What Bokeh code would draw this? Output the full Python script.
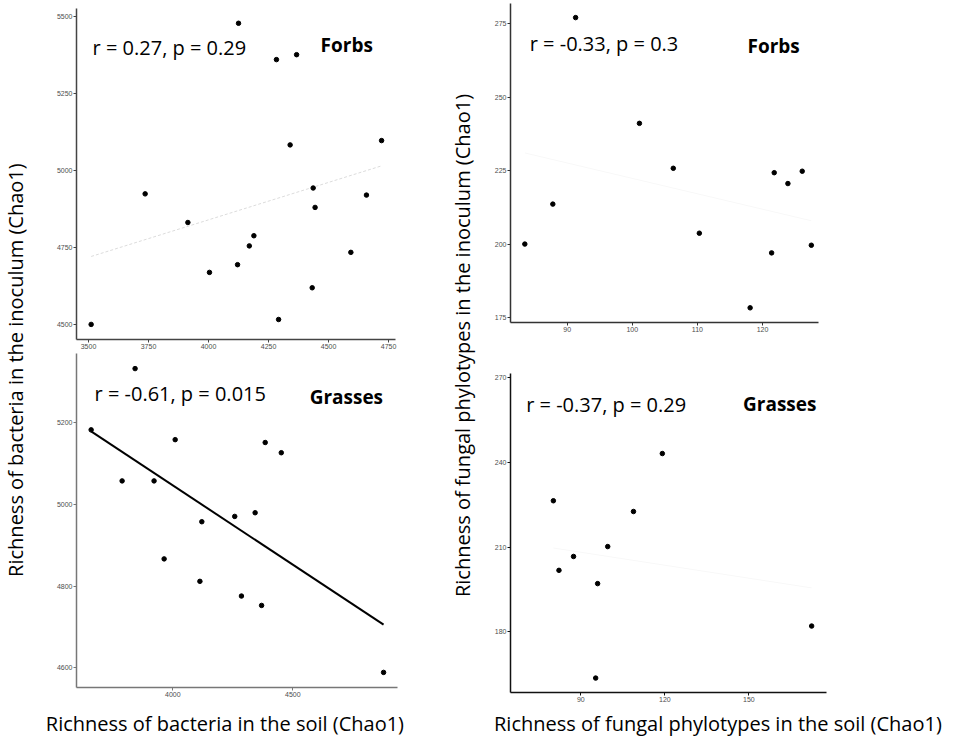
import numpy as np
from bokeh.plotting import figure
from bokeh.layouts import row, column
from bokeh.models import Range1d, FixedTicker
from bokeh.core.properties import value
from bokeh.embed import file_html
from bokeh.resources import INLINE

# ---------------- data ----------------
# Bacteria, forbs
bac_forbs_soil = [4125, 4283, 4367, 4340, 4721, 3736, 3914, 4436, 4444, 4658,
                  4189, 4170, 4004, 4121, 4593, 4432, 4292, 3511]
bac_forbs_inoc = [5478, 5360, 5376, 5083, 5097, 4924, 4831, 4943, 4880, 4920,
                  4788, 4755, 4669, 4694, 4734, 4619, 4516, 4500]
# Bacteria, grasses
bac_grass_soil = [3843, 3660, 4010, 4385, 4452, 3789, 3922, 4343, 4258, 4121,
                  3964, 4113, 4286, 4370, 4878]
bac_grass_inoc = [5333, 5183, 5159, 5152, 5127, 5058, 5058, 4980, 4971, 4958,
                  4867, 4812, 4776, 4753, 4589]
# Fungi, forbs
fung_forbs_soil = [91.3, 101.1, 106.3, 87.8, 83.5, 110.3, 121.8, 123.9, 126.1,
                   121.4, 127.5, 118.1]
fung_forbs_inoc = [277.1, 241.1, 225.8, 213.6, 200.0, 203.7, 224.3, 220.6, 224.8,
                   197.0, 199.6, 178.3]
# Fungi, grasses
fung_grass_soil = [119.1, 80.2, 108.8, 99.6, 87.4, 82.2, 96.0, 172.4, 95.3]
fung_grass_inoc = [243.1, 226.4, 222.6, 210.2, 206.7, 201.8, 197.1, 182.1, 163.7]

stats_text = ["r = 0.27, p = 0.29", "r = -0.61, p = 0.015",
              "r = -0.33, p = 0.3", "r = -0.37, p = 0.29"]
group_text = ["Forbs", "Grasses", "Forbs", "Grasses"]

ticks_bf_x = [3500, 3750, 4000, 4250, 4500, 4750]
ticks_bf_y = [4500, 4750, 5000, 5250, 5500]
ticks_bg_x = [4000, 4500]
ticks_bg_y = [4600, 4800, 5000, 5200]
ticks_ff_x = [90, 100, 110, 120]
ticks_ff_y = [175, 200, 225, 250, 275]
ticks_fg_x = [90, 120, 150]
ticks_fg_y = [180, 210, 240, 270]

y_title_left = "Richness of bacteria in the inoculum  (Chao1)"
y_title_right = "Richness of fungal phylotypes in the inoculum (Chao1)"
x_title_left = "Richness of bacteria in the soil  (Chao1)"
x_title_right = "Richness of fungal phylotypes in the soil  (Chao1)"

FONT = "Open Sans"
TICKFONT = "Liberation Sans"


def panel(xs, ys, xr, yr, xt, yt, fw, fh, bl, br, bt, bb, axis_col,
          fit_col, fit_w, fit_dash, stat, grp, stat_pos, grp_pos):
    p = figure(frame_width=fw, frame_height=fh,
               min_border_left=bl, min_border_right=br,
               min_border_top=bt, min_border_bottom=bb,
               x_range=Range1d(*xr), y_range=Range1d(*yr),
               output_backend="svg", toolbar_location=None)
    p.outline_line_color = None
    p.grid.visible = False
    p.background_fill_color = "white"
    p.border_fill_color = "white"
    p.xaxis.ticker = FixedTicker(ticks=xt)
    p.yaxis.ticker = FixedTicker(ticks=yt)
    for ax in (p.xaxis, p.yaxis):
        ax.axis_line_color = axis_col
        ax.axis_line_width = 1.5
        ax.major_tick_line_color = axis_col
        ax.major_tick_out = 3
        ax.major_tick_in = 0
        ax.minor_tick_line_color = None
        ax.major_label_text_font = TICKFONT
        ax.major_label_text_font_size = "7px"
        ax.major_label_text_color = "#4d4d4d"
        ax.major_label_standoff = 1
    # regression line computed from the data
    xa = np.array(xs, dtype=float)
    ya = np.array(ys, dtype=float)
    k, b = np.polyfit(xa, ya, 1)
    lx = np.array([xa.min(), xa.max()])
    p.line(lx, k * lx + b, line_color=fit_col, line_width=fit_w, line_dash=fit_dash)
    p.scatter(xs, ys, size=4.5, fill_color="black", line_color="black")
    p.text(x=[stat_pos[0]], y=[stat_pos[1]], text=[stat],
           text_font=value(FONT), text_font_size="20px",
           text_align="left", text_baseline="middle", text_color="black")
    p.text(x=[grp_pos[0]], y=[grp_pos[1]], text=[grp],
           text_font=value(FONT), text_font_size="19px", text_font_style="bold",
           text_align="left", text_baseline="middle", text_color="black")
    return p


p1 = panel(bac_forbs_soil, bac_forbs_inoc, (3450, 4779), (4451, 5526),
           ticks_bf_x, ticks_bf_y, 319, 331, 44, 37, 8, 14, "#444444",
           "#dcdcdc", 1, "3 2", stats_text[0], group_text[0], (3517, 5399), (4467, 5406))
p2 = panel(bac_grass_soil, bac_grass_inoc, (3599, 4936), (4552, 5370),
           ticks_bg_x, ticks_bg_y, 321, 334, 46, 33, 0, 19, "#777777",
           "black", 2, "solid", stats_text[1], group_text[1], (3674, 5272), (4570, 5264))
p3 = panel(fung_forbs_soil, fung_forbs_inoc, (81.3, 128.6), (173.3, 281.9),
           ticks_ff_x, ticks_ff_y, 308, 319, 30, 143, 3, 51, "#333333",
           "#f8f8f8", 1, "solid", stats_text[2], group_text[2], (84.25, 268.4), (117.7, 267.6))
p4 = panel(fung_grass_soil, fung_grass_inoc, (64.9, 177.7), (158.6, 271.4),
           ticks_fg_x, ticks_fg_y, 316, 319, 29, 136, 0, 14, "#111111",
           "#f8f8f8", 1, "solid", stats_text[3], group_text[3], (70.5, 260.5), (147.9, 260.5))


def label_fig(w, h):
    f = figure(width=w, height=h, x_range=Range1d(0, w), y_range=Range1d(0, h),
               x_axis_type=None, y_axis_type=None, min_border=0,
               output_backend="svg", toolbar_location=None)
    f.outline_line_color = None
    f.grid.visible = False
    return f


ylab_l = label_fig(30, 706)
ylab_l.text(x=[15], y=[339], text=[y_title_left], angle=np.pi / 2,
            text_font=value(FONT), text_font_size="20px",
            text_align="center", text_baseline="middle", text_color="black")
ylab_r = label_fig(50, 706)
ylab_r.text(x=[32], y=[361], text=[y_title_right], angle=np.pi / 2,
            text_font=value(FONT), text_font_size="20px",
            text_align="center", text_baseline="middle", text_color="black")
xlab = label_fig(961, 35)
xlab.text(x=[227, 720], y=[18, 18], text=[x_title_left, x_title_right],
          text_font=value(FONT), text_font_size="20px",
          text_align="center", text_baseline="middle", text_color="black")

layout = column(
    row(ylab_l, column(p1, p2, spacing=0), ylab_r, column(p3, p4, spacing=0), spacing=0),
    xlab, spacing=0)

open("out.html", "w").write(file_html(layout, INLINE))
